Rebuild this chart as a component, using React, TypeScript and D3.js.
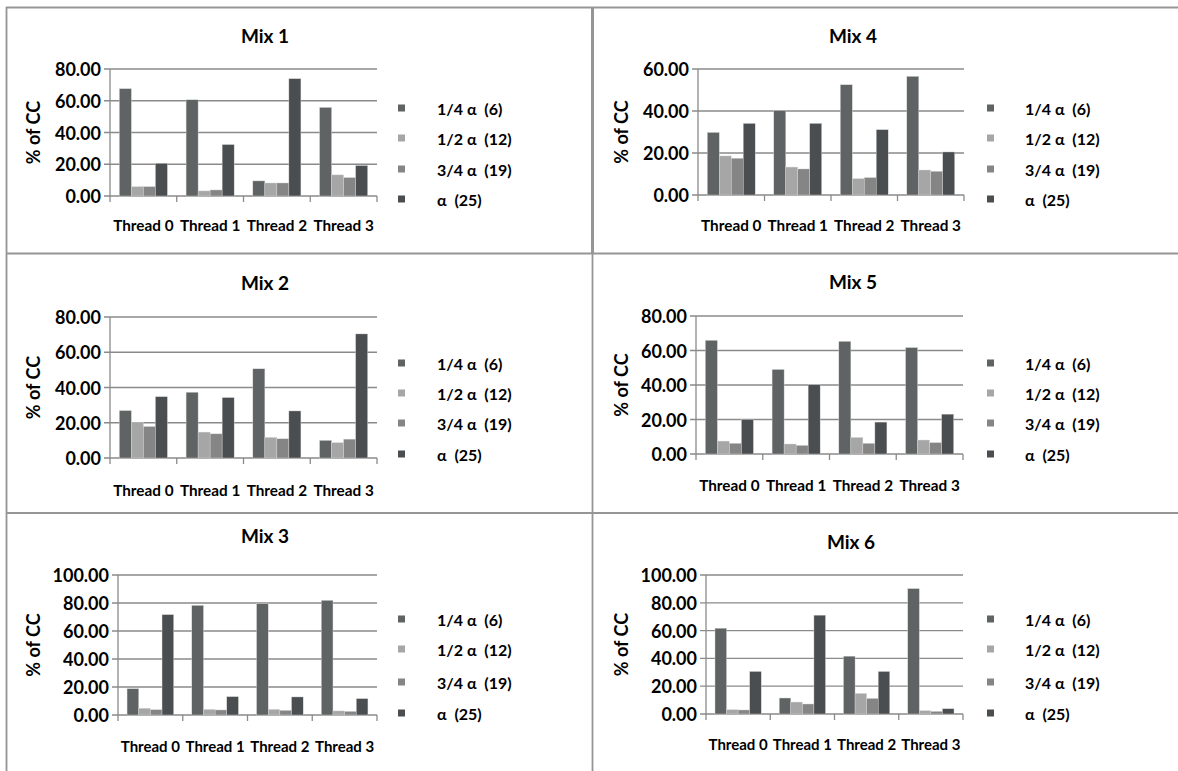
import React from "react";
import * as d3 from "d3";

const threads = ["Thread 0", "Thread 1", "Thread 2", "Thread 3"];
const seriesNames = ["1/4 α  (6)", "1/2 α  (12)", "3/4 α  (19)", "α  (25)"];
const seriesColors = ["#5f6363", "#a6a6a6", "#858585", "#4b4e50"];

// values[thread][series]
const mix1 = [[67.6, 5.9, 5.9, 20.6], [60.6, 3.2, 3.8, 32.4], [9.5, 8.2, 8.2, 73.9], [55.8, 13.3, 11.6, 19.2]];
const mix2 = [[26.9, 20.1, 17.9, 34.8], [37.3, 14.7, 13.7, 34.3], [50.6, 11.7, 10.9, 26.7], [10.0, 8.7, 10.7, 70.4]];
const mix3 = [[18.8, 4.8, 3.8, 71.7], [78.3, 4.0, 3.6, 13.1], [79.5, 4.0, 3.3, 12.9], [81.9, 2.9, 2.6, 11.7]];
const mix4 = [[29.8, 18.6, 17.5, 34.1], [40.2, 13.3, 12.4, 34.1], [52.5, 7.8, 8.3, 31.1], [56.5, 11.9, 11.3, 20.5]];
const mix5 = [[65.9, 7.5, 6.2, 20.0], [49.0, 5.8, 5.0, 40.1], [65.3, 9.6, 6.2, 18.5], [61.7, 8.1, 6.6, 23.1]];
const mix6 = [[61.7, 3.1, 2.9, 30.6], [11.5, 8.6, 7.2, 71.1], [41.6, 14.8, 11.2, 30.6], [90.2, 2.4, 1.9, 3.8]];

const mixTitles = ["Mix 1", "Mix 4", "Mix 2", "Mix 5", "Mix 3", "Mix 6"];
const mixData = [mix1, mix4, mix2, mix5, mix3, mix6];
const yMaxes = [80, 60, 80, 80, 100, 100];
const yStep = 20;

// layout (pixel geometry)
const layouts = [
  { x0: 110, x1: 377, yTop: 69, yBot: 196, titleX: 265, titleY: 35, catY: 231, yLabX: 33, legX: 398, legTX: 437, legY: [108, 138, 169, 199] },
  { x0: 698, x1: 964, yTop: 69, yBot: 195, titleX: 853, titleY: 35, catY: 231, yLabX: 621, legX: 987, legTX: 1025, legY: [108, 138, 169, 199] },
  { x0: 110, x1: 377, yTop: 317, yBot: 458, titleX: 265, titleY: 282, catY: 496, yLabX: 33, legX: 398, legTX: 437, legY: [363, 393, 423, 454] },
  { x0: 696, x1: 963, yTop: 316, yBot: 454, titleX: 853, titleY: 281, catY: 491, yLabX: 621, legX: 987, legTX: 1025, legY: [363, 393, 423, 454] },
  { x0: 118, x1: 377, yTop: 575, yBot: 715, titleX: 265, titleY: 535, catY: 752, yLabX: 33, legX: 398, legTX: 437, legY: [619, 649, 682, 713] },
  { x0: 706, x1: 963, yTop: 575, yBot: 714, titleX: 851, titleY: 541, catY: 750, yLabX: 621, legX: 987, legTX: 1025, legY: [619, 649, 682, 713] },
];

const FONT = "Lato, 'Open Sans', sans-serif";
const AXIS = "#8a8a8a";

function Panel({ idx }: { idx: number }) {
  const L = layouts[idx];
  const data = mixData[idx];
  const yMax = yMaxes[idx];
  const y = d3.scaleLinear().domain([0, yMax]).range([L.yBot, L.yTop]);
  const x = d3.scaleBand<string>().domain(threads).range([L.x0, L.x1]).padding(0);
  const bw = x.bandwidth();
  const inner = d3
    .scaleBand<number>()
    .domain(d3.range(seriesNames.length))
    .range([bw * 0.14, bw * 0.86])
    .padding(0);
  const ticks = d3.range(0, yMax + 0.001, yStep);
  const boundaries = d3.range(threads.length + 1).map((i) => L.x0 + i * bw);
  const catFs = bw < 65 ? 15 : 15.3;
  return (
    <g>
      <text x={L.titleX} y={L.titleY} textAnchor="middle" dominantBaseline="central" fontSize={19} fontWeight={700} fill="#000" fontFamily={FONT}>
        {mixTitles[idx]}
      </text>
      {ticks.map((t) => (
        <g key={t}>
          <line x1={L.x0 - 6} x2={L.x1} y1={y(t)} y2={y(t)} stroke={AXIS} strokeWidth={1.3} />
          <text x={L.x0 - 9} y={y(t)} textAnchor="end" dominantBaseline="central" fontSize={18} fontWeight={700} fontFamily={FONT} fill="#000">
            {t.toFixed(2)}
          </text>
        </g>
      ))}
      <line x1={L.x0} x2={L.x0} y1={L.yTop} y2={L.yBot} stroke={AXIS} strokeWidth={1.3} />
      {boundaries.map((b, i) => (
        <line key={i} x1={b} x2={b} y1={L.yBot} y2={L.yBot + 6} stroke={AXIS} strokeWidth={1.3} />
      ))}
      {data.map((vals, ti) =>
        vals.map((v, si) => (
          <rect
            key={`${ti}-${si}`}
            x={(x(threads[ti]) as number) + (inner(si) as number)}
            y={y(v)}
            width={inner.bandwidth()}
            height={L.yBot - y(v)}
            fill={seriesColors[si]}
            stroke="#d9d9d9"
            strokeWidth={0.4}
          />
        ))
      )}
      {threads.map((t) => (
        <text key={t} x={(x(t) as number) + bw / 2} y={L.catY} textAnchor="middle" fontSize={catFs} fontWeight={700} fontFamily={FONT} fill="#000">
          {t}
        </text>
      ))}
      <text
        transform={`translate(${L.yLabX},${(L.yTop + L.yBot) / 2}) rotate(-90)`}
        textAnchor="middle"
        dominantBaseline="central"
        fontSize={18}
        fontWeight={700}
        fontFamily={FONT}
        fill="#000"
      >
        % of CC
      </text>
      {seriesNames.map((s, si) => (
        <g key={s}>
          <rect x={L.legX} y={L.legY[si] - 3.5} width={7} height={7} fill={seriesColors[si]} />
          <text x={L.legTX} y={L.legY[si]} dominantBaseline="central" fontSize={16} fontWeight={700} fontFamily={FONT} fill="#000" xmlSpace="preserve">
            {s}
          </text>
        </g>
      ))}
    </g>
  );
}

export default function App() {
  return (
    <svg width={1178} height={771} style={{ position: "absolute", left: 0, top: 0, background: "#fff" }}>
      <rect x={0} y={0} width={1178} height={771} fill="#fff" />
      {/* frames */}
      <line x1={6} x2={1178} y1={7.5} y2={7.5} stroke="#959595" strokeWidth={1.8} />
      <line x1={6.5} x2={6.5} y1={7} y2={771} stroke="#959595" strokeWidth={1.8} />
      <line x1={592.5} x2={592.5} y1={7} y2={253} stroke="#959595" strokeWidth={3} />
      <line x1={592.5} x2={592.5} y1={253} y2={771} stroke="#959595" strokeWidth={1.8} />
      <line x1={6} x2={1178} y1={253.5} y2={253.5} stroke="#959595" strokeWidth={1.8} />
      <line x1={6} x2={1178} y1={513} y2={513} stroke="#959595" strokeWidth={1.8} />
      {layouts.map((_, i) => (
        <Panel key={i} idx={i} />
      ))}
    </svg>
  );
}
